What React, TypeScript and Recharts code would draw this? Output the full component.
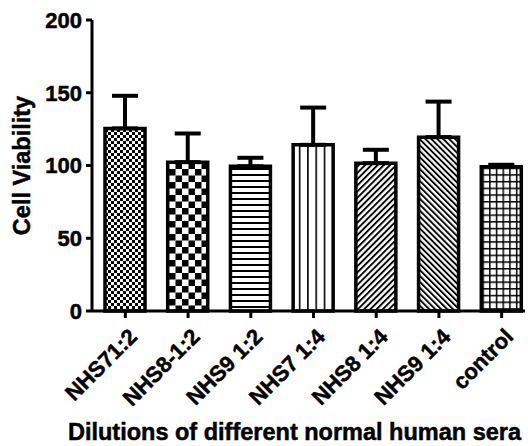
import { BarChart, Bar, XAxis, YAxis, ErrorBar, Cell } from 'recharts';

const categories = ['NHS71:2', 'NHS8-1:2', 'NHS9 1:2', 'NHS7 1:4', 'NHS8 1:4', 'NHS9 1:4', 'control'];
const viability = [125.5, 102.3, 99.5, 114.2, 101.6, 119.5, 99.2];
const upperError = [22.4, 19.7, 5.8, 25.6, 9.2, 24.4, 1.3];
const patternIds = ['fineChecker', 'checker', 'hLines', 'vLines', 'fwdDiag', 'backDiag', 'grid'];
const yTicks = [0, 50, 100, 150, 200];

const data = categories.map((name, i) => ({
  name,
  value: viability[i],
  err: [0, upperError[i]],
}));

const FONT = '"Liberation Sans", Arial, sans-serif';
// thin outline makes the bold text look as heavy as the original
const heavy = { fontFamily: FONT, fontWeight: 'bold', fill: '#000', stroke: '#000', strokeWidth: 0.5 };

function AngledTick({ x, y, payload }: any) {
  const ax = x + 13;
  const ay = y + 19;
  return (
    <text
      x={ax}
      y={ay}
      transform={`rotate(-45, ${ax}, ${ay})`}
      textAnchor="end"
      fontSize={22}
      style={heavy}
    >
      {payload.value}
    </text>
  );
}

export default function App() {
  return (
    <div style={{ position: 'absolute', left: 0, top: 0, background: '#fff' }}>
      <BarChart
        width={528}
        height={446}
        data={data}
        margin={{ top: 20, right: 3, left: 0, bottom: 0 }}
      >
        <defs>
          <pattern id="fineChecker" width="6" height="6" patternUnits="userSpaceOnUse">
            <rect width="6" height="6" fill="#fff" />
            <rect x="0" y="0" width="3" height="3" fill="#000" />
            <rect x="3" y="3" width="3" height="3" fill="#000" />
          </pattern>
          <pattern id="checker" width="13" height="13" patternUnits="userSpaceOnUse">
            <rect width="13" height="13" fill="#fff" />
            <rect x="0" y="0" width="6.5" height="6.5" fill="#000" />
            <rect x="6.5" y="6.5" width="6.5" height="6.5" fill="#000" />
          </pattern>
          <pattern id="hLines" width="10" height="6" patternUnits="userSpaceOnUse">
            <rect width="10" height="6" fill="#fff" />
            <rect x="0" y="0" width="10" height="2" fill="#000" />
          </pattern>
          <pattern id="vLines" width="8.3" height="10" patternUnits="userSpaceOnUse">
            <rect width="8.3" height="10" fill="#fff" />
            <rect x="0" y="0" width="1.6" height="10" fill="#000" />
          </pattern>
          <pattern id="fwdDiag" width="4.4" height="10" patternUnits="userSpaceOnUse" patternTransform="rotate(45)">
            <rect width="4.4" height="10" fill="#fff" />
            <rect x="0" y="0" width="1.9" height="10" fill="#000" />
          </pattern>
          <pattern id="backDiag" width="4.2" height="10" patternUnits="userSpaceOnUse" patternTransform="rotate(-45)">
            <rect width="4.2" height="10" fill="#fff" />
            <rect x="0" y="0" width="1.9" height="10" fill="#000" />
          </pattern>
          <pattern id="grid" width="6.7" height="6.7" patternUnits="userSpaceOnUse">
            <rect width="6.7" height="6.7" fill="#fff" />
            <rect x="0" y="0" width="1.5" height="6.7" fill="#000" />
            <rect x="0" y="0" width="6.7" height="1.5" fill="#000" />
          </pattern>
        </defs>
        <XAxis
          dataKey="name"
          height={135}
          padding={{ left: 2, right: -8 }}
          interval={0}
          tickSize={7}
          tickMargin={1}
          axisLine={{ stroke: '#000', strokeWidth: 3 }}
          tickLine={{ stroke: '#000', strokeWidth: 3 }}
          tick={<AngledTick />}
          label={{
            value: 'Dilutions of different normal human sera',
            position: 'insideBottom',
            offset: 6,
            dx: -14,
            style: { ...heavy, fontSize: 23.5 },
          }}
        />
        <YAxis
          width={92}
          domain={[0, 200]}
          ticks={yTicks}
          interval={0}
          tickSize={6}
          tickMargin={4}
          axisLine={{ stroke: '#000', strokeWidth: 3 }}
          tickLine={{ stroke: '#000', strokeWidth: 3 }}
          tick={{ ...heavy, fontSize: 22 }}
          label={{
            value: 'Cell Viability',
            angle: -90,
            position: 'insideLeft',
            offset: 22,
            style: { ...heavy, textAnchor: 'middle', fontSize: 23.5 },
          }}
        />
        <Bar dataKey="value" barSize={40} stroke="#000" strokeWidth={3.5} isAnimationActive={false}>
          {data.map((entry, i) => (
            <Cell key={`cell-${i}`} fill={`url(#${patternIds[i]})`} />
          ))}
          <ErrorBar dataKey="err" width={13} stroke="#000" strokeWidth={4} isAnimationActive={false} />
        </Bar>
      </BarChart>
    </div>
  );
}
